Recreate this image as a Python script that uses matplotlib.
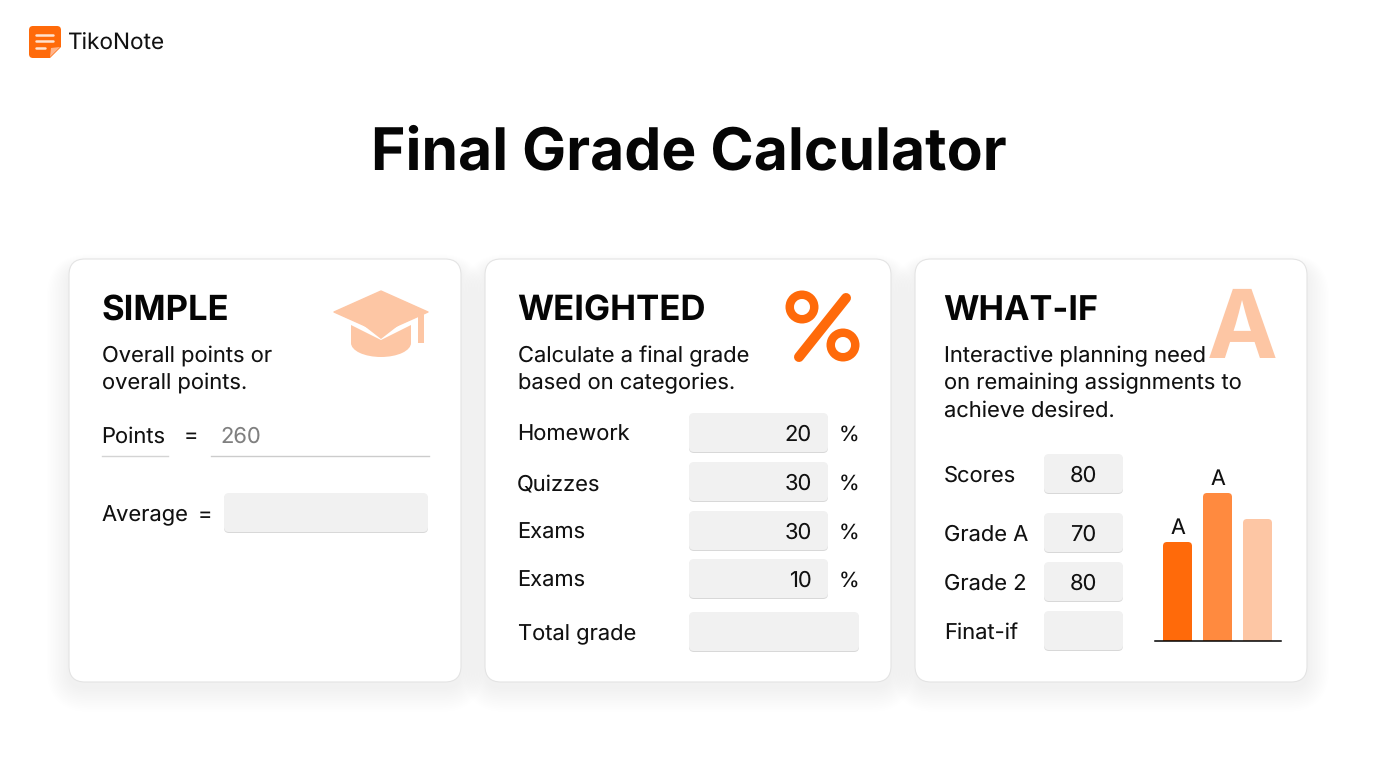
import matplotlib
matplotlib.use('Agg')
import matplotlib.pyplot as plt
from matplotlib.patches import FancyBboxPatch, Polygon, Wedge, Ellipse

plt.rcParams['font.family'] = ['Inter', 'DejaVu Sans']
plt.rcParams['text.hinting'] = 'no_hinting'
plt.rcParams['text.hinting_factor'] = 1

ORANGE = '#ff6a0a'
MID = '#ff8a3f'
PALE = '#fdc6a4'

## Data
weighted_labels = ['Homework', 'Quizzes', 'Exams', 'Exams']
weighted_values = [20, 30, 30, 10]
whatif_labels = ['Scores', 'Grade A', 'Grade 2', 'Finat-if']
whatif_values = ['80', '70', '80', '']
bar_heights = [99, 148, 122]
bar_labels = ['A', 'A', '']
bar_colors = [ORANGE, MID, PALE]

W, H = 1376, 768
BODY = 21.9
fig = plt.figure(figsize=(W / 100, H / 100), dpi=100)
ax = fig.add_axes([0, 0, 1, 1])
ax.set_xlim(0, W)
ax.set_ylim(H, 0)
ax.axis('off')


def px(size):
    return size * 72 / 100


def txt(x, y, s, size=BODY, weight='normal', color='#111111', ha='left', **kw):
    ax.text(x, y, s, fontsize=px(size), fontweight=weight, color=color,
            ha=ha, va='baseline', **kw)


def rbox(x0, y0, x1, y1, r, **kw):
    p = FancyBboxPatch((x0 + r, y0 + r), x1 - x0 - 2 * r, y1 - y0 - 2 * r,
                       boxstyle=f'round,pad={r},rounding_size={r}', **kw)
    ax.add_patch(p)
    return p


def card(x0, y0, x1, y1):
    # soft shadow, just stacked translucent boxes
    for i in range(14, 0, -1):
        g = i * 2
        rbox(x0 - g * 0.8, y0 - g * 0.5 + 9, x1 + g * 0.8, y1 + g * 0.9 + 5, 16 + g,
             fc='black', ec='none', alpha=0.0022, zorder=1)
    rbox(x0, y0, x1, y1, 16, fc='white', ec='#e4e4e4', lw=0.8, zorder=2)


def field(x0, y0, x1, y1):
    rbox(x0, y0 + 1.5, x1, y1 + 1, 5, fc='#d8d8d8', ec='none', zorder=3)
    rbox(x0, y0, x1, y1, 5, fc='#f1f1f1', ec='none', zorder=4)


# logo
rbox(29, 26, 61, 58, 4, fc=ORANGE, ec='none', zorder=3)
ax.add_patch(Polygon([[50, 58], [61, 47], [61, 58]], fc='white', ec='none', zorder=4))
ax.add_patch(Polygon([[50, 57], [51, 48], [60, 47]], fc='#ffb48a', ec='none', zorder=5))
for y, x1 in zip([35, 41, 48], [53, 53, 45]):
    ax.plot([36, x1], [y, y], color='#ffe3d0', lw=1.8, solid_capstyle='round', zorder=5)
txt(67.5, 50, 'TikoNote', size=22.6)

txt(688.5, 169, 'Final Grade Calculator', size=58.8, weight='bold', color='#050505', ha='center')

card(69, 259, 461, 682)
card(485, 259, 891, 682)
card(915, 259, 1307, 682)

# simple
txt(101.5, 320, 'SIMPLE', size=34.6, weight='bold', color='#050505', zorder=6)
txt(102, 362, 'Overall points or', zorder=6)
txt(102, 389, 'overall points.', zorder=6)
txt(101, 442.5, 'Points', zorder=6)
txt(184, 442.5, '=', zorder=6)
txt(220, 442.5, '260', color='#808080', zorder=6)
ax.plot([102, 168], [455.5, 455.5], color='#d4d4d4', lw=1, zorder=5)
ax.plot([211, 429], [455.5, 455.5], color='#cccccc', lw=1, zorder=5)
txt(102, 521, 'Average', zorder=6)
txt(198, 521, '=', zorder=6)
field(224, 493, 428, 532)

# graduation cap
ax.add_patch(Ellipse((381, 343), 60, 28, fc=PALE, ec='none', zorder=5))
ax.add_patch(Polygon([[351, 322], [351, 343], [411, 343], [411, 322]], fc=PALE, ec='none', zorder=5))
ax.add_patch(Polygon([[345, 311], [381, 339], [417, 311], [417, 322], [381, 340], [345, 322]],
                     fc='white', ec='none', zorder=5.5))
ax.add_patch(Polygon([[334, 312], [381, 291], [428, 312], [381, 333]],
                     fc=PALE, ec=PALE, lw=1, joinstyle='round', zorder=6))
ax.add_patch(Polygon([[418, 316], [424, 314], [424, 343], [418, 343]], fc=PALE, ec='none', zorder=6))

# weighted
txt(517, 320, 'WEIGHTED', size=34.8, weight='bold', color='#050505', zorder=6)
txt(518, 362, 'Calculate a final grade', zorder=6)
txt(517.5, 389, 'based on categories.', zorder=6)

for c in [(802, 307), (843, 345)]:
    ax.add_patch(Wedge(c, 16.5, 0, 360, width=8.5, fc=ORANGE, ec='none', zorder=6))
ax.plot([799, 846], [357, 298], color=ORANGE, lw=7.2, solid_capstyle='round', zorder=6)

field_tops = [413, 462, 511, 559]
for top, lab, val in zip(field_tops, weighted_labels, weighted_values):
    field(689, top, 828, top + 39)
    txt(517, top + 28, lab, zorder=6)
    txt(812, top + 28, str(val), ha='right', zorder=6)
    txt(849, top + 28, '%', size=21, ha='center', zorder=6)
txt(518, 640, 'Total grade', zorder=6)
field(689, 612, 859, 651)

# what-if
txt(1242, 358, 'A', size=95, weight='bold', color=PALE, ha='center', zorder=5)
txt(943, 320, 'WHAT-IF', size=34.2, weight='bold', color='#050505', zorder=6)
txt(944, 362, 'Interactive planning need', zorder=6)
txt(944, 389, 'on remaining assignments to', zorder=6)
txt(944, 416.5, 'achieve desired.', zorder=6)

whatif_tops = [454, 513, 562, 611]
for top, lab, val in zip(whatif_tops, whatif_labels, whatif_values):
    field(1044, top, 1123, top + 39)
    txt(944, top + 28, lab, zorder=6)
    txt(1083.5, top + 28, val, ha='center', zorder=6)

# bar chart, one x unit = 40px, one y unit = 1px
bar_ax = fig.add_axes([1155 / W, 1 - 641 / H, 126 / W, 161 / H])
bar_ax.set_xlim(-0.5625, 2.5875)
bar_ax.set_ylim(0, 161)
bar_ax.patch.set_alpha(0)
for s in ['top', 'left', 'right']:
    bar_ax.spines[s].set_visible(False)
bar_ax.spines['bottom'].set_linewidth(1.1)
bar_ax.spines['bottom'].set_color('#000000')
bar_ax.set_xticks([])
bar_ax.set_yticks([])
for i, (h, lab, col) in enumerate(zip(bar_heights, bar_labels, bar_colors)):
    bar_ax.add_patch(FancyBboxPatch((i - 0.3625 + 0.1, -10), 0.725 - 0.2, h + 10 - 4,
                                    boxstyle='round,pad=0.1,rounding_size=0.1',
                                    mutation_aspect=40, fc=col, ec='none'))
    if lab:
        bar_ax.text(i, h + 8, lab, ha='center', va='baseline', fontsize=px(21.5), color='#111111')

fig.savefig('out.png', dpi=100, facecolor='white')
